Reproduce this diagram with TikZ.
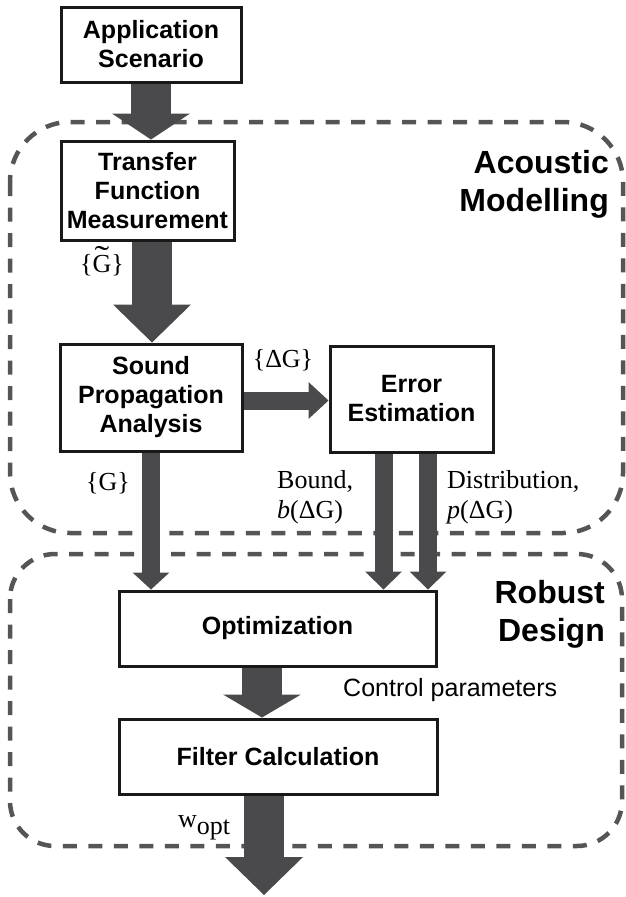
\documentclass[tikz,border=0pt]{standalone}
\usepackage{fontspec}
\setmainfont{Liberation Serif}
\setsansfont{Liberation Sans}
\usetikzlibrary{arrows.meta,positioning}

\definecolor{flowgray}{HTML}{4A4A4C}
\definecolor{framegray}{HTML}{555555}
\newcommand{\boxfont}{\sffamily\bfseries\fontsize{25}{29}\selectfont}
\newcommand{\headfont}{\sffamily\bfseries\fontsize{32}{38}\selectfont}
\newcommand{\labfont}{\rmfamily\fontsize{26}{30}\selectfont}
\newcommand{\wideG}{\ooalign{G\cr\hidewidth\raisebox{5pt}{\scalebox{1.7}[1.2]{\char"02DC}}\hidewidth\cr}}

\begin{document}
\begin{tikzpicture}[x=1pt, y=-1pt,
    block/.style={rectangle, draw=black!90, line width=3pt, fill=white, align=center, inner sep=0pt, font=\boxfont},
    frame/.style={draw=framegray, line width=4.5pt, dash pattern=on 14pt off 11.5pt},
    bigflow/.style={draw=flowgray, line width=40pt, -{Triangle[width=78pt, length=#1, line width=0pt]}},
    smallflow/.style={draw=flowgray, line width=18pt, -{Triangle[width=37pt, length=#1, line width=0pt]}},
    lab/.style={font=\labfont, inner sep=0pt}]
    \useasboundingbox (0,0) rectangle (625,897);

    % Frames
    \draw[frame, rounded corners=60pt] (10,122) rectangle (623,533);
    \draw[frame, rounded corners=45pt] (10,554) rectangle (622,846);
    \node[anchor=east, align=right, font=\headfont, inner sep=0pt] (acoustic) at (609,184) {Acoustic\\Modelling};
    \node[anchor=east, align=right, font=\headfont, inner sep=0pt] (robust) at (605,614) {Robust\\Design};

    % Blocks
    \node[block, minimum width=180pt, minimum height=75pt] (app) at (151,44.5) {Application\\Scenario};
    \node[block, minimum width=173pt, minimum height=99pt] (tfm) at (147.5,190.5) {Transfer\\Function\\Measurement};
    \node[block, minimum width=182pt, minimum height=107pt] (spa) at (151,397.5) {Sound\\Propagation\\Analysis};
    \node[block, minimum width=163pt, minimum height=106pt] (err) at (411.5,399) {Error\\Estimation};
    \node[block, minimum width=317pt, minimum height=75pt] (opt) at (277.5,628.5) {Optimization};
    \node[block, minimum width=318pt, minimum height=75pt] (filt) at (278,756.5) {Filter Calculation};
    \coordinate (out) at (264,895);

    % Flows
    \draw[bigflow=26pt] (app.south) -- (app.south |- tfm.north);
    \draw[bigflow=38pt] ([xshift=4.5pt]tfm.south) -- ([xshift=4.5pt]tfm.south |- spa.north);
    \draw[smallflow=20pt] ([yshift=-3pt]spa.east) -- ([yshift=-3pt]spa.east -| err.west);
    \draw[smallflow=17pt] (spa.south) -- (spa.south |- opt.north);
    \draw[smallflow=18pt] ([xshift=-28pt]err.south) -- ([xshift=-28pt]err.south |- opt.north);
    \draw[smallflow=18pt] ([xshift=16.5pt]err.south) -- ([xshift=16.5pt]err.south |- opt.north);
    \draw[bigflow=23pt] ([xshift=-15.5pt]opt.south) -- ([xshift=-15.5pt]opt.south |- filt.north);
    \draw[bigflow=38pt] ([xshift=-14pt]filt.south) -- ([xshift=-14pt]filt.south |- out);

    % Labels
    \node[lab] (gtilde) at (102,265) {\{\wideG\}};
    \node[lab] (dg) at (283,360) {\{ΔG\}};
    \node[lab] (g) at (108,483) {\{G\}};
    \node[lab, anchor=west, align=left] (bound) at (277,497) {Bound,\\\textit{b}(ΔG)};
    \node[lab, anchor=west, align=left] (dist) at (447,497) {Distribution,\\\textit{p}(ΔG)};
    \node[anchor=west, inner sep=0pt, font=\sffamily\fontsize{25}{30}\selectfont] (ctrl) at (343,690) {Control parameters};
    \node[lab] (wopt) at (204,828) {w\raisebox{-7pt}{opt}};
\end{tikzpicture}
\end{document}
